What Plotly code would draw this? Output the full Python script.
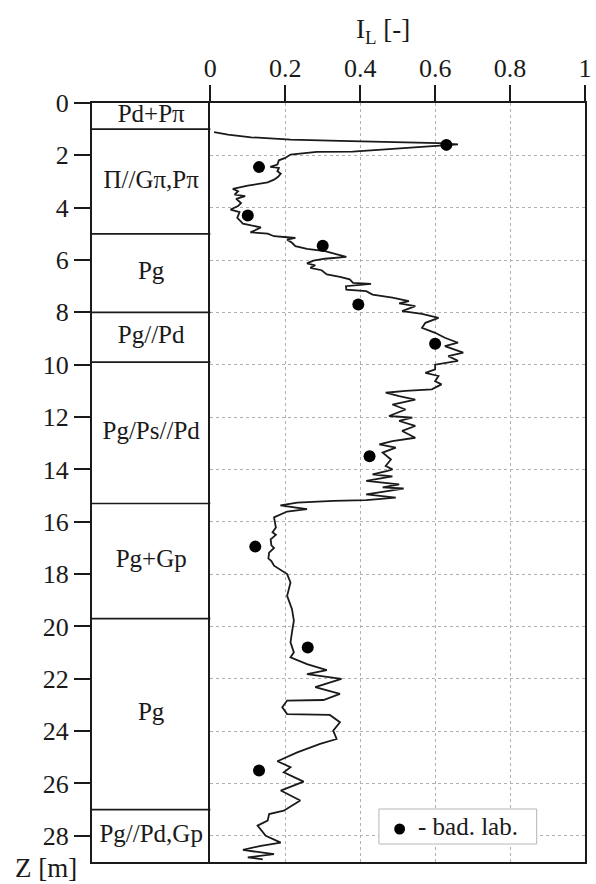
import plotly.graph_objects as go

# ---- data ----
depth = [1.11, 1.21, 1.31, 1.40, 1.45, 1.49, 1.53, 1.58, 1.63, 1.76, 1.86, 1.87, 1.91, 1.97,
         2.10, 2.19, 2.35, 2.44, 2.48, 2.61, 2.70, 2.82, 2.93, 3.03, 3.16, 3.28, 3.37, 3.50,
         3.56, 3.66, 3.82, 3.94, 4.07, 4.17, 4.39, 4.52, 4.61, 4.68, 4.75, 4.87, 4.94, 4.99,
         5.09, 5.13, 5.15, 5.22, 5.34, 5.47, 5.57, 5.66, 5.75, 5.88, 5.95, 6.02, 6.13, 6.20,
         6.30, 6.39, 6.55, 6.64, 6.74, 6.87, 6.91, 7.00, 7.13, 7.19, 7.32, 7.44, 7.57, 7.66,
         7.76, 7.95, 8.06, 8.21, 8.40, 8.59, 8.78, 8.97, 9.16, 9.29, 9.54, 9.67, 9.85, 10.00,
         10.18, 10.31, 10.43, 10.63, 10.75, 10.94, 11.00, 11.07, 11.20, 11.33, 11.52, 11.71,
         11.96, 12.02, 12.15, 12.34, 12.53, 12.79, 12.92, 13.04, 13.17, 13.36, 13.62, 13.87,
         14.00, 14.06, 14.19, 14.27, 14.44, 14.57, 14.69, 14.73, 14.95, 15.08, 15.17, 15.20,
         15.27, 15.37, 15.52, 15.61, 15.83, 16.00, 16.22, 16.40, 16.50, 16.67, 16.90, 17.00,
         17.18, 17.40, 17.50, 17.68, 18.00, 18.32, 18.83, 19.34, 19.78, 20.22, 20.61, 20.99,
         21.18, 21.44, 21.67, 21.82, 22.00, 22.32, 22.58, 22.81, 22.83, 23.09, 23.35, 23.38,
         23.66, 23.98, 24.30, 24.49, 24.81, 25.15, 25.38, 25.57, 25.93, 26.27, 26.65, 27.04,
         27.17, 27.42, 27.61, 28.00, 28.26, 28.38, 28.54, 28.70, 28.82, 28.90]
il = [0.010, 0.047, 0.109, 0.214, 0.346, 0.510, 0.609, 0.661, 0.609, 0.486, 0.380, 0.284, 0.249, 0.214,
      0.200, 0.183, 0.179, 0.160, 0.183, 0.179, 0.188, 0.181, 0.170, 0.153, 0.100, 0.060, 0.074, 0.065,
      0.093, 0.069, 0.082, 0.074, 0.054, 0.078, 0.072, 0.082, 0.087, 0.109, 0.135, 0.118, 0.107, 0.153,
      0.170, 0.205, 0.227, 0.205, 0.218, 0.227, 0.258, 0.306, 0.332, 0.363, 0.306, 0.275, 0.258, 0.280,
      0.267, 0.297, 0.311, 0.346, 0.372, 0.381, 0.429, 0.362, 0.363, 0.416, 0.433, 0.486, 0.530, 0.504,
      0.547, 0.512, 0.565, 0.609, 0.574, 0.565, 0.600, 0.626, 0.661, 0.626, 0.675, 0.635, 0.661, 0.600,
      0.600, 0.574, 0.609, 0.600, 0.617, 0.591, 0.521, 0.468, 0.504, 0.547, 0.486, 0.521,
      0.477, 0.539, 0.504, 0.547, 0.512, 0.547, 0.486, 0.451, 0.495, 0.460, 0.482, 0.468,
      0.486, 0.473, 0.433, 0.486, 0.416, 0.504, 0.460, 0.516, 0.416, 0.495, 0.416, 0.328,
      0.232, 0.187, 0.258, 0.205, 0.170, 0.172, 0.175, 0.166, 0.175, 0.161, 0.163, 0.170,
      0.157, 0.155, 0.163, 0.170, 0.205, 0.214, 0.205, 0.218, 0.223, 0.218, 0.214, 0.223,
      0.214, 0.258, 0.311, 0.258, 0.350, 0.280, 0.346, 0.302, 0.205, 0.192, 0.205, 0.319,
      0.346, 0.328, 0.337, 0.293, 0.232, 0.179, 0.214, 0.196, 0.249, 0.188, 0.240, 0.196,
      0.157, 0.153, 0.126, 0.148, 0.188, 0.135, 0.087, 0.170, 0.100, 0.140]

lab_depth = [1.6, 2.45, 4.3, 5.45, 7.7, 9.2, 13.5, 16.95, 20.8, 25.5]
lab_il = [0.63, 0.13, 0.10, 0.30, 0.395, 0.60, 0.425, 0.12, 0.26, 0.13]

layer_top = [0.0, 1.0, 5.0, 8.0, 9.9, 15.3, 19.7, 27.0]
layer_bot = [1.0, 5.0, 8.0, 9.9, 15.3, 19.7, 27.0, 29.0]
layer_name = ["Pd+Pπ", "Π//Gπ,Pπ", "Pg", "Pg//Pd", "Pg/Ps//Pd", "Pg+Gp", "Pg", "Pg//Pd,Gp"]

x_ticks = [0, 0.2, 0.4, 0.6, 0.8, 1]
x_ticktext = ["0", "0.2", "0.4", "0.6", "0.8", "1"]
y_ticks = list(range(0, 30, 2))

legend_label = "- bad. lab."

FONT = "Liberation Serif"
INK = "#1a1a1a"

# pixel -> paper helpers (plot area: left 92, top 103, width 500, height 759)
def px(x):
    return (x - 92) / 500

def py(y):
    return (862 - y) / 759

fig = go.Figure()

fig.add_trace(go.Scatter(x=il, y=depth, mode="lines",
                         line=dict(color=INK, width=1.8), showlegend=False,
                         xaxis="x", yaxis="y"))
fig.add_trace(go.Scatter(x=lab_il, y=lab_depth, mode="markers",
                         marker=dict(color="black", size=12),
                         name=legend_label, showlegend=False,
                         xaxis="x", yaxis="y"))

# strata column labels
mid = [(a + b) / 2 for a, b in zip(layer_top, layer_bot)]
fig.add_trace(go.Scatter(x=[0.5] * len(mid), y=mid, mode="text", text=layer_name,
                         textposition="middle center",
                         textfont=dict(family=FONT, size=25, color=INK),
                         showlegend=False, hoverinfo="skip",
                         xaxis="x2", yaxis="y2"))

shapes = []
for b in layer_bot[:-1]:
    shapes.append(dict(type="line", xref="x2", yref="y2", x0=0, x1=1.02, y0=b, y1=b,
                       line=dict(color=INK, width=1.6)))
# legend box and symbol
shapes.append(dict(type="rect", xref="paper", yref="paper", layer="above",
                   x0=px(383), x1=px(543), y0=py(844), y1=py(809),
                   fillcolor="white", line=dict(color="#b5b5b5", width=1)))
shapes.append(dict(type="circle", xref="paper", yref="paper", layer="above",
                   x0=px(398.5), x1=px(409.5), y0=py(834.5), y1=py(823.5),
                   fillcolor="black", line=dict(color="black", width=0)))

fig.update_layout(
    width=596, height=884,
    margin=dict(l=92, r=4, t=103, b=22),
    paper_bgcolor="white", plot_bgcolor="white",
    font=dict(family=FONT, size=26, color=INK),
    showlegend=False,
    xaxis=dict(domain=[0.24, 1], anchor="y", side="top", range=[0, 1],
               tickvals=x_ticks, ticktext=x_ticktext,
               ticks="outside", ticklen=16, tickwidth=2, tickcolor=INK,
               showline=True, linecolor=INK, linewidth=2, mirror=True,
               showgrid=True, gridcolor="#b0b0b0", griddash="dot", gridwidth=1,
               zeroline=False, tickfont=dict(family=FONT, size=26, color=INK),
               ticklabelstandoff=-2, ticklabeloverflow="allow"),
    yaxis=dict(domain=[0, 1], anchor="x", range=[29, 0],
               tickvals=y_ticks, showticklabels=False, ticks="",
               showline=True, linecolor=INK, linewidth=2, mirror=True,
               showgrid=True, gridcolor="#b0b0b0", griddash="dot", gridwidth=1,
               zeroline=False),
    xaxis2=dict(domain=[0, 0.24], anchor="y2", range=[0, 1], side="top",
                showticklabels=False, ticks="", showgrid=False, zeroline=False,
                showline=True, linecolor=INK, linewidth=2, mirror=True),
    yaxis2=dict(domain=[0, 1], anchor="x2", range=[29, 0],
                tickvals=y_ticks, ticks="outside", ticklen=16, tickwidth=2, tickcolor=INK,
                showline=True, linecolor=INK, linewidth=2, showgrid=False, zeroline=False,
                tickfont=dict(family=FONT, size=26, color=INK), ticklabelstandoff=0),
    shapes=shapes,
    annotations=[
        dict(text="I<sub>L</sub> [-]", xref="paper", yref="paper",
             x=px(387), y=py(31), xanchor="center", yanchor="middle",
             showarrow=False, font=dict(family=FONT, size=27, color=INK)),
        dict(text="Z [m]", xref="paper", yref="paper",
             x=px(45), y=py(868), xanchor="center", yanchor="middle",
             showarrow=False, font=dict(family=FONT, size=27, color=INK)),
        dict(text=legend_label, xref="paper", yref="paper",
             x=px(421), y=py(826), xanchor="left", yanchor="middle",
             showarrow=False, font=dict(family=FONT, size=25, color=INK)),
    ],
)

fig.write_html("out.html")
